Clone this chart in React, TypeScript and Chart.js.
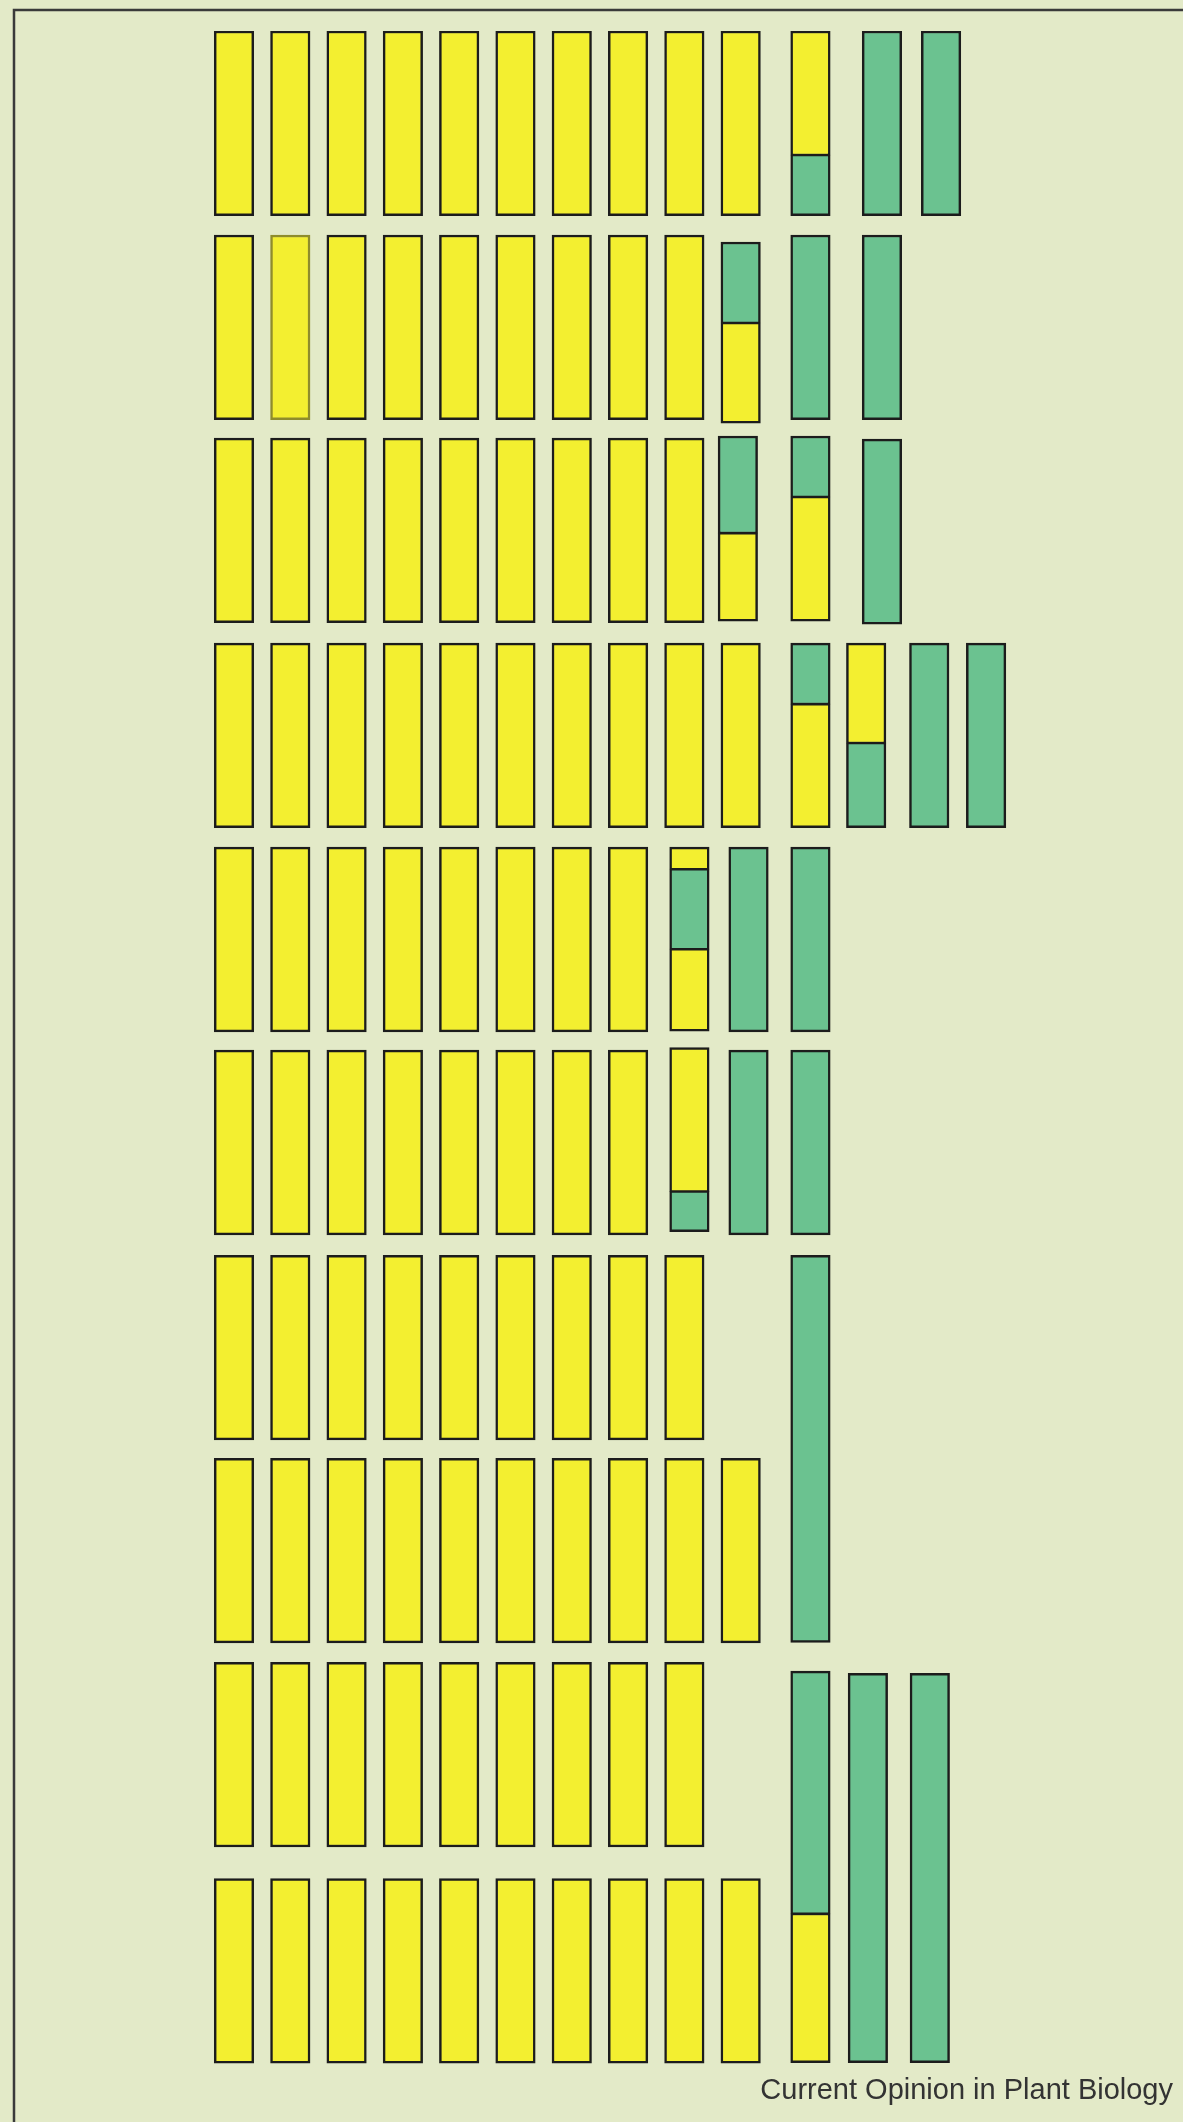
import React, { useEffect, useRef } from 'react';
import { Chart, registerables } from 'chart.js';

Chart.register(...registerables);

const BG = '#E3EAC8';
const YELLOW = '#F3EF30';
const GREEN = '#6BC290';
const EDGE = '#1c1c1c';
const FADED_EDGE = '#8e8c2c';
const FRAME = '#3a3a3a';
const CAPTION = 'Current Opinion in Plant Biology';

// Start of each row of chromosomes on the (reversed) vertical axis
const ROW_STARTS = [0, 10, 19.95, 30, 40, 49.95, 60, 69.95, 79.95, 90.55];
// Length of a standard chromosome bar
const CHROM_LENGTH = 9.05;
// Number of plain yellow chromosomes (positions 1..n) in each row
const PLAIN_YELLOW_COUNT = [10, 9, 9, 10, 8, 8, 9, 10, 9, 10];
// Plain chromosomes drawn with a faded outline: [row, position]
const FADED_PLAIN: [number, number][] = [[1, 2]];

// Other chromosomes, per row: [position, colour, from, to] relative to the row start
type Seg = [number, 'Y' | 'G', number, number];
const ROW1_EXTRA: Seg[] = [
  [11.24, 'Y', 0, 6.08], [11.24, 'G', 6.08, 9.05],
  [12.51, 'G', 0, 9.05],
  [13.56, 'G', 0, 9.05],
];
const ROW2_EXTRA: Seg[] = [
  [10, 'G', 0.34, 4.31], [10, 'Y', 4.31, 9.22],
  [11.24, 'G', 0, 9.05],
  [12.51, 'G', 0, 9.05],
];
const ROW3_EXTRA: Seg[] = [
  [9.95, 'G', -0.1, 4.66], [9.95, 'Y', 4.66, 8.97],
  [11.24, 'G', -0.1, 2.89], [11.24, 'Y', 2.89, 8.97],
  [12.51, 'G', 0.05, 9.12],
];
const ROW4_EXTRA: Seg[] = [
  [11.24, 'G', 0, 2.99], [11.24, 'Y', 2.99, 9.05],
  [12.23, 'Y', 0, 4.9], [12.23, 'G', 4.9, 9.05],
  [13.35, 'G', 0, 9.05],
  [14.36, 'G', 0, 9.05],
];
const ROW5_EXTRA: Seg[] = [
  [9.09, 'Y', 0, 1.08], [9.09, 'G', 1.08, 5.0], [9.09, 'Y', 5.0, 9.02],
  [10.14, 'G', 0, 9.05],
  [11.24, 'G', 0, 9.05],
];
const ROW6_EXTRA: Seg[] = [
  [9.09, 'Y', -0.13, 6.93], [9.09, 'G', 6.93, 8.9],
  [10.14, 'G', 0, 9.05],
  [11.24, 'G', 0, 9.05],
];
const ROW7_EXTRA: Seg[] = [
  [11.24, 'G', 0, 18.97],
];
const ROW8_EXTRA: Seg[] = [];
const ROW9_EXTRA: Seg[] = [
  [11.24, 'G', 0.43, 12.33], [11.24, 'Y', 12.33, 19.62],
  [12.26, 'G', 0.54, 19.62],
  [13.36, 'G', 0.54, 19.62],
];
const ROW10_EXTRA: Seg[] = [];
const EXTRA_BY_ROW = [ROW1_EXTRA, ROW2_EXTRA, ROW3_EXTRA, ROW4_EXTRA, ROW5_EXTRA,
  ROW6_EXTRA, ROW7_EXTRA, ROW8_EXTRA, ROW9_EXTRA, ROW10_EXTRA];

const backdrop = {
  id: 'backdrop',
  beforeDraw(chart: any) {
    const { ctx, width, height } = chart;
    ctx.save();
    ctx.fillStyle = BG;
    ctx.fillRect(0, 0, width, height);
    ctx.strokeStyle = FRAME;
    ctx.lineWidth = 2.5;
    ctx.beginPath();
    ctx.moveTo(width, 10);
    ctx.lineTo(14, 10);
    ctx.lineTo(14, height);
    ctx.stroke();
    ctx.restore();
  },
};

export default function App() {
  const ref = useRef<HTMLCanvasElement>(null);

  useEffect(() => {
    const canvas = ref.current;
    if (!canvas) return;
    const yellow: any[] = [];
    const green: any[] = [];
    const OUT = 2.5;
    const IN = 1.6;

    PLAIN_YELLOW_COUNT.forEach((n, r) => {
      for (let p = 1; p <= n; p++) {
        yellow.push({
          x: p,
          y: [ROW_STARTS[r], ROW_STARTS[r] + CHROM_LENGTH],
          faded: FADED_PLAIN.some(([fr, fp]) => fr === r && fp === p),
          bw: OUT,
        });
      }
    });

    EXTRA_BY_ROW.forEach((segs, r) => {
      segs.forEach(([pos, col, from, to]) => {
        const above = segs.some(([p2, , , t2]) => p2 === pos && Math.abs(t2 - from) < 1e-6);
        const below = segs.some(([p2, , f2]) => p2 === pos && Math.abs(f2 - to) < 1e-6);
        const pt = {
          x: pos,
          y: [ROW_STARTS[r] + from, ROW_STARTS[r] + to],
          faded: false,
          bw: { top: above ? IN : OUT, bottom: below ? IN : OUT, left: OUT, right: OUT },
        };
        (col === 'Y' ? yellow : green).push(pt);
      });
    });

    const common = {
      borderColor: (c: any) => (c.raw && c.raw.faded ? FADED_EDGE : EDGE),
      borderWidth: (c: any) => (c.raw ? c.raw.bw : OUT),
      borderSkipped: false,
      barThickness: 39.5,
      grouped: false,
    };

    const chart = new Chart(canvas, {
      type: 'bar',
      data: {
        datasets: [
          { label: 'yellow', data: yellow, backgroundColor: YELLOW, ...common } as any,
          { label: 'green', data: green, backgroundColor: GREEN, ...common } as any,
        ],
      },
      options: {
        responsive: false,
        animation: false,
        layout: { padding: { left: 177.7, right: 10, top: 31, bottom: 0 } },
        scales: {
          x: { type: 'linear', display: false, min: 0, max: 17.68, offset: false },
          y: { type: 'linear', display: false, min: 0, max: 100, reverse: true },
        },
        plugins: {
          legend: { display: false },
          tooltip: { enabled: false },
          title: {
            display: true,
            position: 'bottom',
            align: 'end',
            text: CAPTION,
            color: '#333333',
            font: { family: "'Liberation Sans', Arial, sans-serif", size: 29, weight: 'normal', lineHeight: 1.2 },
            padding: { top: 2.2, bottom: 13.6 },
          },
        },
      } as any,
      plugins: [backdrop],
    });
    return () => chart.destroy();
  }, []);

  return (
    <div style={{ position: 'absolute', left: 0, top: 0, width: 1183, height: 2122, background: BG }}>
      <canvas ref={ref} width={1183} height={2122} style={{ display: 'block' }} />
    </div>
  );
}
